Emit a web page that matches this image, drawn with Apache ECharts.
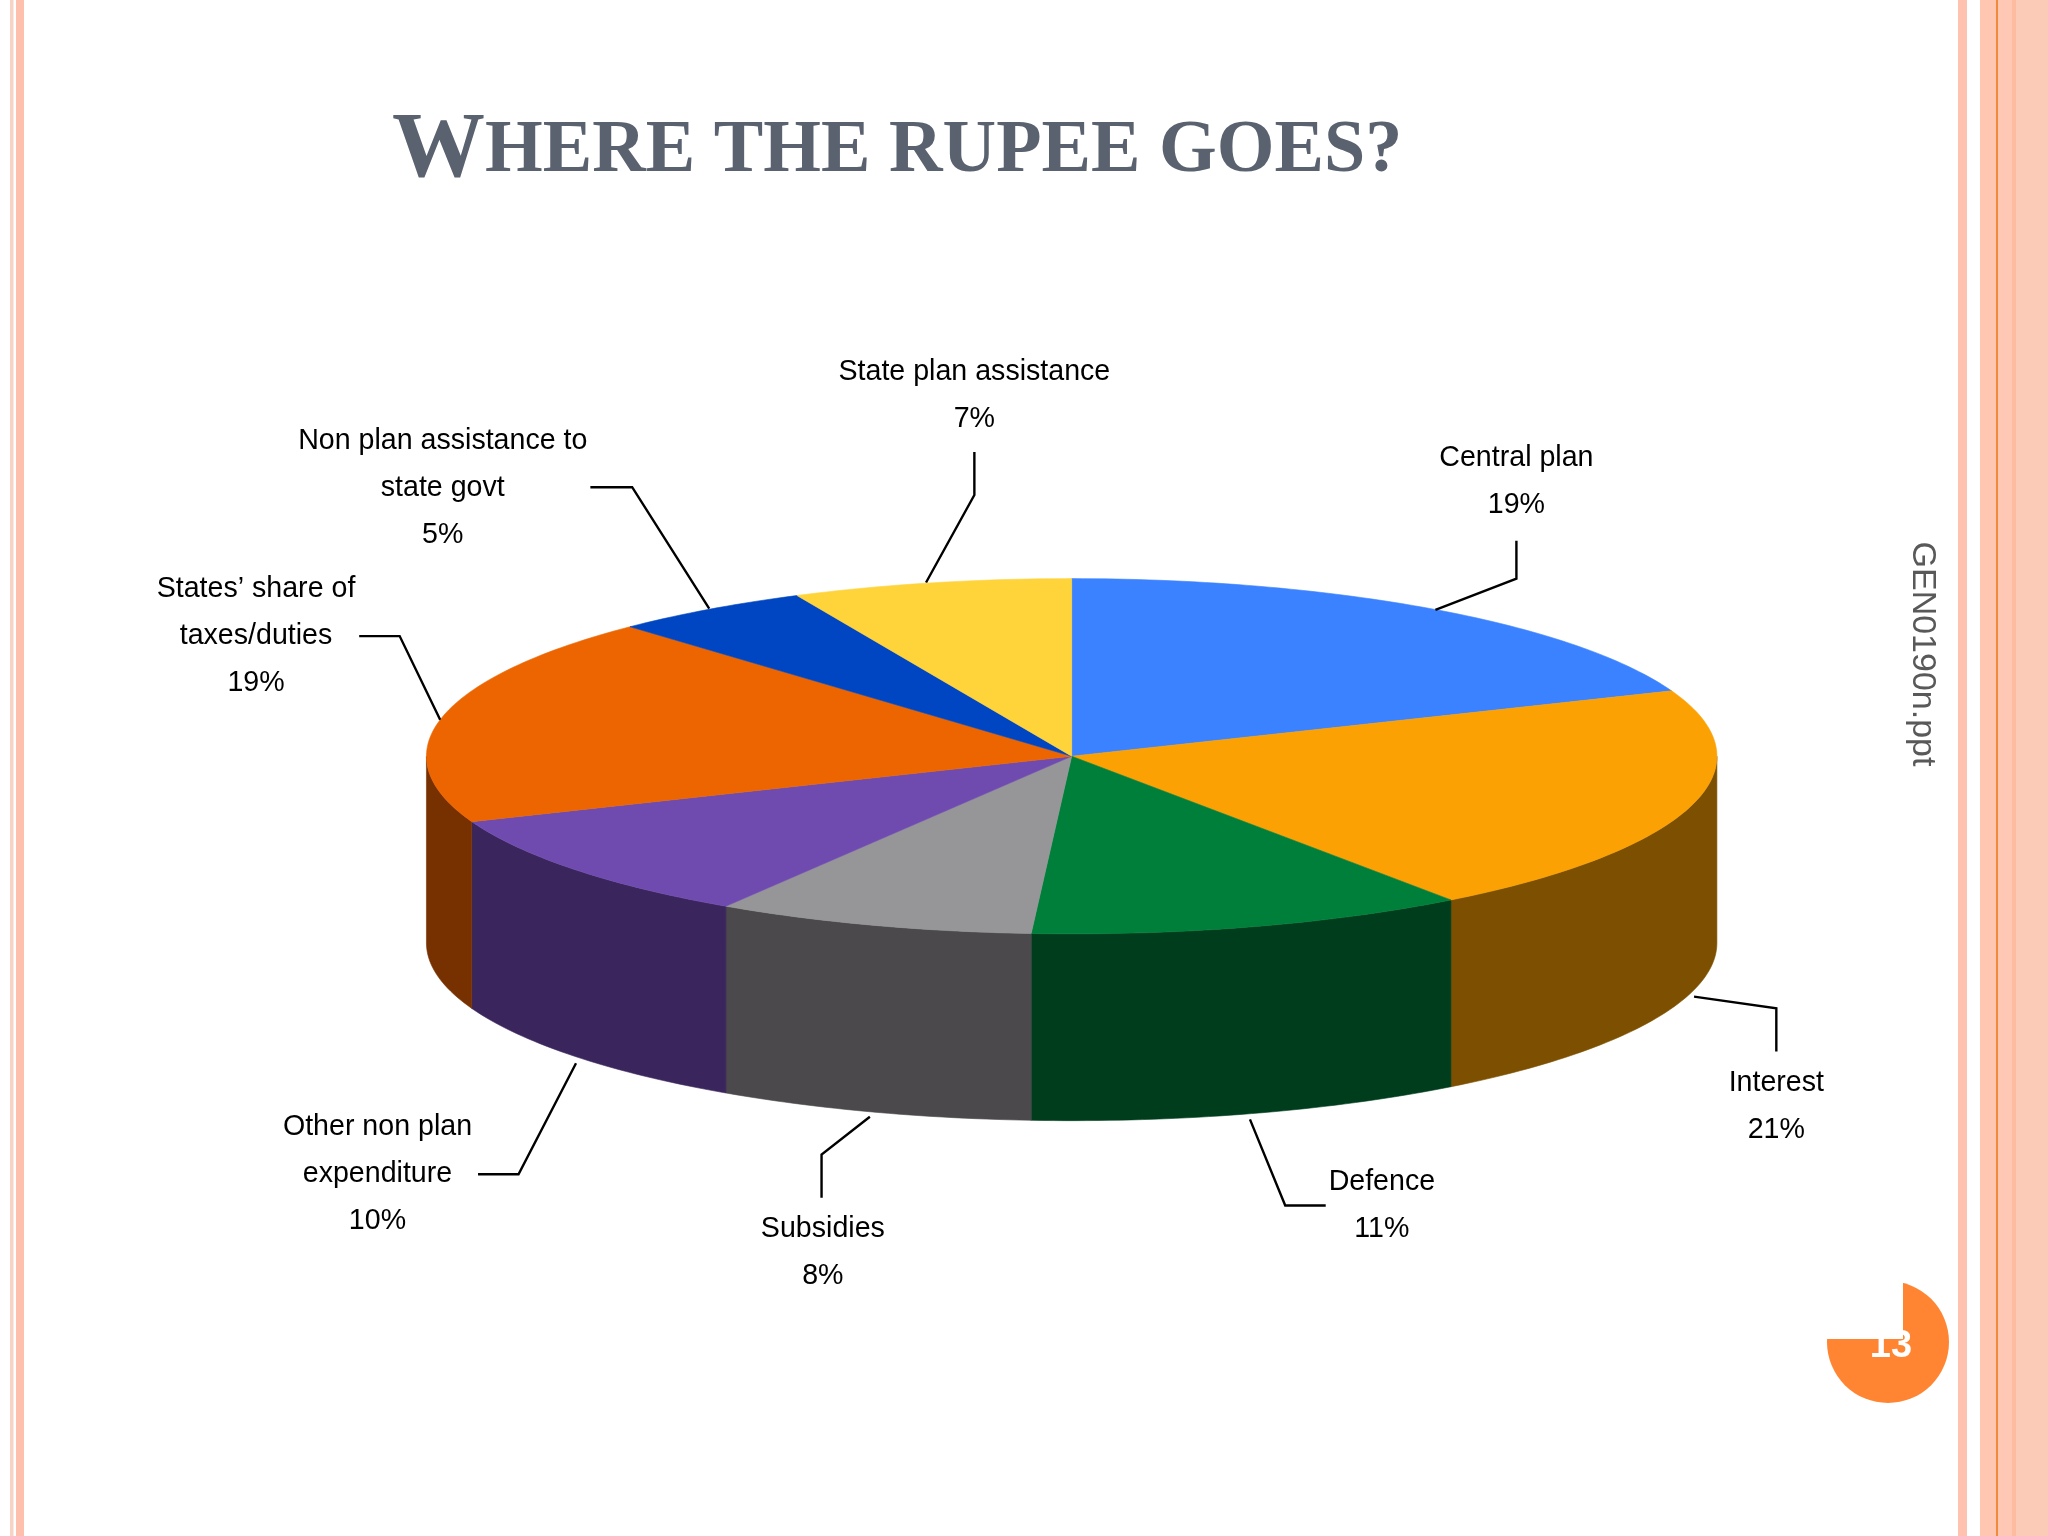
<!DOCTYPE html>
<html>
<head>
<meta charset="utf-8">
<style>html,body{margin:0;padding:0;background:#fff}#c{width:2048px;height:1536px}</style>
<script src="https://cdn.jsdelivr.net/npm/echarts@6/dist/echarts.min.js"></script>
</head>
<body>
<div id="c"></div>
<script>
// ---- data ----
const categories = ['Central plan','Interest','Defence','Subsidies','Other non plan expenditure','States\u2019 share of taxes/duties','Non plan assistance to state govt','State plan assistance'];
const values = [19,21,11,8,10,19,5,7];
const labelLines = [
  ['Central plan','19%'],['Interest','21%'],['Defence','11%'],['Subsidies','8%'],
  ['Other non plan','expenditure','10%'],['States\u2019 share of','taxes/duties','19%'],
  ['Non plan assistance to','state govt','5%'],['State plan assistance','7%']
];
const titleInitial = 'W';
const titleRest = 'HERE THE RUPEE GOES?';
const sideNote = 'GEN0190n.ppt';
const pageNumber = '13';

// ---- styles and layout (separate from data) ----
const topColors  = ['#3A82FF','#FCA103','#007F3A','#969698','#6F4BB0','#EC6500','#0046C2','#FFD43A'];
const sideColors = ['#1D4180','#7C5000','#003D1D','#4B494B','#3A265C','#773000','#002361','#806A1D'];
const K = 2048/1568;
const pie = {cx:820.5*K, cy:579*K, rx:494*K, ry:136*K, depth:143*K};
const labelAnchors = [[1161,351],[1360,829],[1058,905],[630,941],[289,863],[196,451],[339,338],[746,285]];
const leaders = [
  [[1161,414],[1161,443],[1099,467]],
  [[1360,805],[1360,772],[1297,763]],
  [[1015,923],[984,923],[957,857]],
  [[629,917],[629,884],[666,855]],
  [[366,899],[397,899],[441,814]],
  [[275,487],[306,487],[337,551]],
  [[452,373],[484,373],[543,466]],
  [[746,346],[746,379],[709,446]]
];
const bands = [
  [10,3.5,'#F9D2C6'],[16,8,'#FFBFAD'],
  [1958,9,'#FFC2B0'],[1980,16,'#FFC7B2'],[1998,14,'#FFC8B4'],[2012,4,'#FDBCA0'],[2016,32,'#FCCBB8'],[1996,2,'#F08A3C']
];

const total = values.reduce((a,b)=>a+b,0);
const starts = []; values.reduce((acc,v,i)=>{starts[i]=acc;return acc+v;},0);
const pt = (deg,dy)=>{const r=deg*Math.PI/180;return [pie.cx+pie.rx*Math.sin(r), pie.cy-pie.ry*Math.cos(r)+(dy||0)];};
const arc = (a0,a1,dy)=>{const p=[];const n=Math.max(2,Math.ceil(a1-a0));for(let i=0;i<=n;i++)p.push(pt(a0+(a1-a0)*i/n,dy));return p;};

function renderItem(params, api){
  const i = params.dataIndex;
  const a0 = starts[i]/total*360, a1 = a0+api.value(0)/total*360;
  const children = [];
  const f0 = Math.max(a0,90), f1 = Math.min(a1,270);
  if (f1>f0){
    children.push({type:'polygon',shape:{points:arc(f0,f1,0).concat(arc(f0,f1,pie.depth).reverse())},
      style:{fill:sideColors[i],stroke:sideColors[i],lineWidth:0.6}});
  }
  children.push({type:'polygon',z2:5,shape:{points:[[pie.cx,pie.cy]].concat(arc(a0,a1,0))},
    style:{fill:topColors[i],stroke:topColors[i],lineWidth:0.6}});
  children.push({type:'polyline',z2:6,shape:{points:leaders[i].map(p=>[p[0]*K,p[1]*K])},
    style:{stroke:'#000',lineWidth:2.4,fill:'none'}});
  labelLines[i].forEach((t,j)=>{
    children.push({type:'text',z2:7,style:{text:t,x:labelAnchors[i][0]*K,y:(labelAnchors[i][1]+j*36)*K,
      align:'center',verticalAlign:'middle',fill:'#000',font:'28.6px "Liberation Sans", Arial, sans-serif'}});
  });
  return {type:'group',children};
}

const graphics = bands.map(b=>({type:'rect',z:0,shape:{x:b[0],y:0,width:b[1],height:1536},style:{fill:b[2]}}));
graphics.push(
  {type:'circle',z:1,shape:{cx:1888,cy:1342,r:61},style:{fill:'#FF8533'}},
  {type:'rect',z:2,shape:{x:1820,y:1270,width:83,height:69},style:{fill:'#fff'}},
  {type:'text',z:3,style:{text:pageNumber,x:1891,y:1347,align:'center',verticalAlign:'middle',fill:'#fff',font:'bold 38px "Liberation Sans", Arial, sans-serif'}},
  {type:'text',z:3,x:1922,y:654,rotation:-Math.PI/2,style:{text:sideNote,x:0,y:0,align:'center',verticalAlign:'middle',fill:'#595959',font:'34px "Liberation Sans", Arial, sans-serif'}}
);

const chart = echarts.init(document.getElementById('c'),null,{renderer:'canvas',width:2048,height:1536});
chart.setOption({
  animation:false,
  backgroundColor:'#ffffff',
  title:{
    left:392,top:105,padding:0,
    text:'{a|'+titleInitial+'}{b|'+titleRest+'}',
    textStyle:{rich:{
      a:{fontFamily:'"Liberation Serif"',fontWeight:'bold',fontSize:93,color:'#5A6270'},
      b:{fontFamily:'"Liberation Serif"',fontWeight:'bold',fontSize:74.2,color:'#5A6270'}
    }}
  },
  graphic:graphics,
  series:[{
    type:'custom',coordinateSystem:'none',silent:true,clip:false,z:5,
    renderItem:renderItem,
    data:categories.map((name,i)=>({name,value:values[i]}))
  }]
});
</script>
</body>
</html>
